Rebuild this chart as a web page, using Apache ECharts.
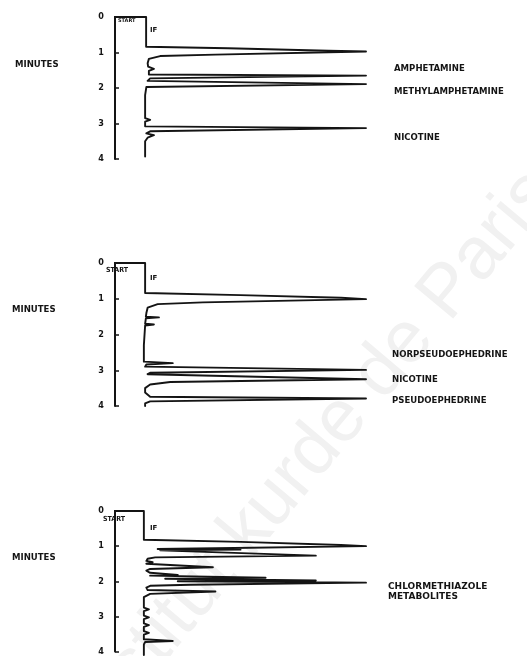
<!DOCTYPE html>
<html>
<head>
<meta charset="utf-8">
<script src="https://cdn.jsdelivr.net/npm/echarts@6/dist/echarts.min.js"></script>
<style>
  html, body { margin: 0; padding: 0; background: #fff; }
  #chart { width: 527px; height: 656px; }
</style>
</head>
<body>
<div id="chart"></div>
<script>
// Retention-time axis (minutes), shared by the three chromatograms
const minuteTicks = [0, 1, 2, 3, 4];
const axisTitle = 'MINUTES';
const startText = 'START';
const injectText = 'IF';

// Detector traces: [signal (relative units), retention time (min)]
const traceAmphetamines = [
  [-4, 0], [12.4, 0], [12.4, 0.84], [45, 0.88], [85, 0.95], [100, 0.97], [100, 1.01],
  [40, 1.06], [18, 1.10], [13.5, 1.18], [13, 1.30], [13.2, 1.40], [15.5, 1.46], [13.5, 1.52],
  [13.5, 1.62], [100, 1.65], [100, 1.70], [14, 1.73], [13, 1.80], [100, 1.89], [100, 1.94],
  [12.5, 1.97], [12, 2.2], [12, 2.85], [14, 2.90], [12, 2.95], [12, 3.08], [100, 3.13],
  [100, 3.18], [14, 3.22], [12.5, 3.28], [15.5, 3.33], [13, 3.40], [12, 3.5], [12, 3.93]
];
const traceEphedrines = [
  [-3.5, 0], [12, 0], [12, 0.84], [50, 0.90], [90, 0.97], [100, 1.01], [100, 1.05],
  [35, 1.10], [17, 1.15], [13, 1.25], [12.5, 1.40], [12.3, 1.50], [17.5, 1.52], [12.3, 1.55],
  [12, 1.70], [15.5, 1.72], [12, 1.75], [11.5, 2.3], [11.5, 2.76], [23, 2.80], [12.5, 2.84],
  [12, 2.90], [100, 2.99], [100, 3.04], [14, 3.07], [13, 3.11], [100, 3.25], [100, 3.30],
  [22, 3.33], [14, 3.40], [12, 3.50], [12, 3.62], [14, 3.74], [100, 3.79], [100, 3.84],
  [14, 3.87], [12, 3.93], [12, 4.0]
];
const traceChlormethiazole = [
  [-3.5, 0], [11.5, 0], [11.5, 0.82], [50, 0.88], [90, 0.97], [100, 1.00], [100, 1.04],
  [40, 1.06], [17, 1.08], [50, 1.10], [18, 1.12], [80, 1.27], [80, 1.31], [16, 1.32],
  [13, 1.36], [12.5, 1.42], [15, 1.46], [12.5, 1.50], [12.5, 1.55], [39, 1.60], [39, 1.63],
  [14, 1.65], [12.5, 1.70], [14, 1.76], [25, 1.82], [14, 1.84], [60, 1.90], [20, 1.93],
  [80, 1.98], [25, 2.00], [100, 2.04], [100, 2.08], [30, 2.10], [14, 2.13], [12.5, 2.18],
  [13, 2.25], [40, 2.29], [40, 2.33], [14, 2.36], [11.5, 2.45], [11.5, 2.75], [13.5, 2.80],
  [11.5, 2.85], [11.5, 2.98], [13.5, 3.03], [11.5, 3.08], [11.5, 3.20], [13.5, 3.25],
  [11.5, 3.30], [11.5, 3.42], [13.5, 3.47], [11.5, 3.52], [11.5, 3.65], [23, 3.70],
  [12, 3.73], [11.5, 3.80], [11.5, 4.1]
];

// Peak identifications written beside each trace
const peakNamesAmphetamines = ['AMPHETAMINE', 'METHYLAMPHETAMINE', 'NICOTINE'];
const peakNamesEphedrines = ['NORPSEUDOEPHEDRINE', 'NICOTINE', 'PSEUDOEPHEDRINE'];
const peakNamesChlormethiazole = ['CHLORMETHIAZOLE', 'METABOLITES'];
const watermarkText = 'Institut kurde de Paris';

const ink = '#141414';
const labelFont = 'bold 9.5px "DejaVu Sans Condensed", "DejaVu Sans", sans-serif';

// Panel frames: top edge of the 0-minute mark and height of 4 minutes
const panels = [
  { top: 17, height: 142, data: traceAmphetamines },
  { top: 263, height: 143, data: traceEphedrines },
  { top: 511, height: 142, data: traceChlormethiazole }
];

const grids = panels.map(p => ({ left: 115, width: 251, top: p.top, height: p.height }));
const xAxes = panels.map((p, i) => ({
  type: 'value', gridIndex: i, min: 0, max: 100, show: false
}));
const yAxes = panels.map((p, i) => ({
  type: 'value', gridIndex: i, inverse: true, min: 0, max: 4, interval: 1,
  axisLine: { show: true, onZero: false, lineStyle: { color: ink, width: 2 } },
  axisTick: { show: true, inside: true, length: 4, lineStyle: { color: ink, width: 1.5 } },
  axisLabel: {
    color: ink, fontSize: 9, fontWeight: 'bold', margin: 11,
    fontFamily: '"DejaVu Sans Condensed", "DejaVu Sans", sans-serif',
    formatter: v => minuteTicks.includes(v) ? String(v) : ''
  },
  splitLine: { show: false }
}));
const series = panels.map((p, i) => ({
  type: 'line', xAxisIndex: i, yAxisIndex: i, data: p.data,
  showSymbol: false, clip: false, animation: false,
  lineStyle: { color: ink, width: 1.9, join: 'round', cap: 'round' }
}));

function text(str, x, y, font, extra) {
  return Object.assign({
    type: 'text', x: x, y: y, silent: true,
    style: { text: str, font: font || labelFont, fill: ink, textVerticalAlign: 'middle' }
  }, extra || {});
}

const graphics = [
  // faint diagonal watermark behind the plots
  {
    type: 'text', x: 312, y: 455, rotation: 50 * Math.PI / 180, z: -10, silent: true,
    style: {
      text: watermarkText, font: '74px "Liberation Sans", Arial, sans-serif',
      fill: '#f1f1f1', textAlign: 'center', textVerticalAlign: 'middle'
    }
  },
  // panel 1
  text(axisTitle, 15, 65),
  text(startText, 118, 21, 'bold 5px "DejaVu Sans", sans-serif'),
  text(injectText, 150, 30, 'bold 7px "DejaVu Sans", sans-serif'),
  text(peakNamesAmphetamines[0], 394, 69),
  text(peakNamesAmphetamines[1], 394, 92),
  text(peakNamesAmphetamines[2], 394, 138),
  // panel 2
  text(axisTitle, 12, 310),
  text(startText, 106, 270, 'bold 7px "DejaVu Sans Condensed", sans-serif'),
  text(injectText, 150, 278, 'bold 7px "DejaVu Sans", sans-serif'),
  text(peakNamesEphedrines[0], 392, 355),
  text(peakNamesEphedrines[1], 392, 380),
  text(peakNamesEphedrines[2], 392, 401),
  // panel 3
  text(axisTitle, 12, 558),
  text(startText, 103, 519, 'bold 7px "DejaVu Sans Condensed", sans-serif'),
  text(injectText, 150, 528, 'bold 7px "DejaVu Sans", sans-serif'),
  text(peakNamesChlormethiazole[0], 388, 587, 'bold 9px "DejaVu Sans", sans-serif'),
  text(peakNamesChlormethiazole[1], 388, 597, 'bold 9px "DejaVu Sans", sans-serif')
];

const chart = echarts.init(document.getElementById('chart'), null, { renderer: 'canvas' });
chart.setOption({
  animation: false,
  backgroundColor: '#ffffff',
  grid: grids,
  xAxis: xAxes,
  yAxis: yAxes,
  series: series,
  graphic: graphics
});
</script>
</body>
</html>
